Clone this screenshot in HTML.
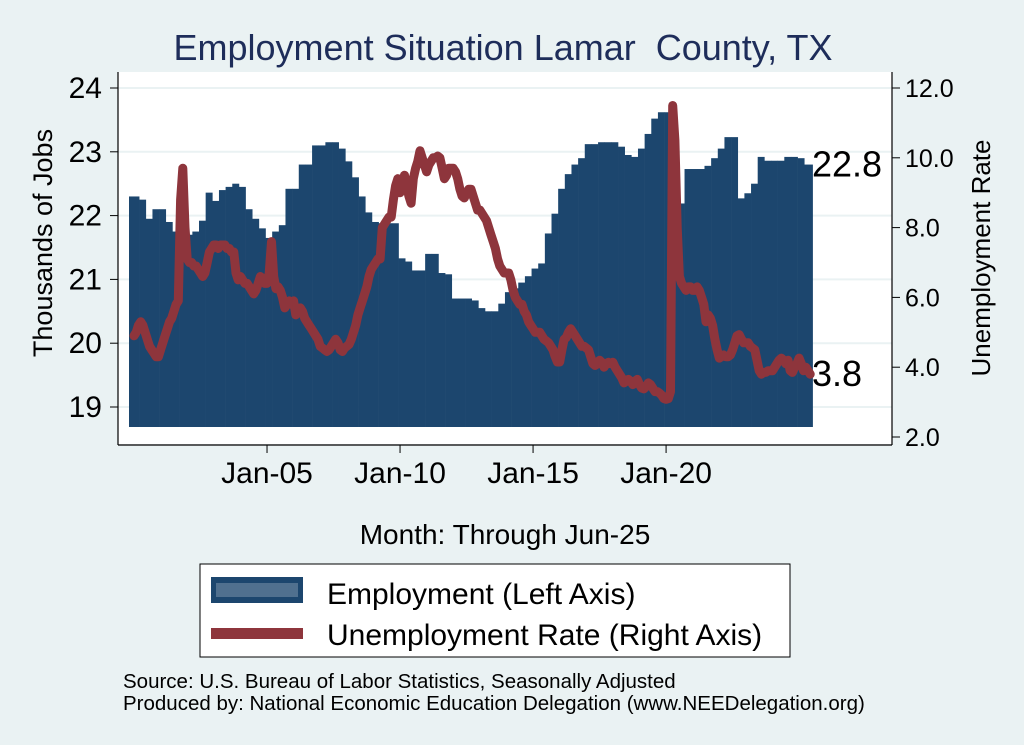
<!DOCTYPE html>
<html><head><meta charset="utf-8">
<style>
body{margin:0;background:#eaf2f3;}
svg{display:block;font-family:"Liberation Sans",Arial,sans-serif;}
</style></head>
<body>
<svg id="chart" width="1024" height="745" viewBox="0 0 1024 745" xmlns="http://www.w3.org/2000/svg">
<rect x="0" y="0" width="1024" height="745" fill="#eaf2f3"/>
<text x="503" y="60" text-anchor="middle" font-size="36" fill="#1e2d5a" xml:space="preserve">Employment Situation Lamar  County, TX</text>
<rect x="118" y="72" width="774" height="372" fill="#ffffff"/>
<g id="grid"></g>
<g id="bars"></g>
<path id="uline" fill="none" stroke="#8e353c" stroke-width="9" stroke-linejoin="round" stroke-linecap="round"/>
<line x1="118" y1="72" x2="118" y2="445" stroke="#000" stroke-width="1.2"/>
<line x1="892" y1="72" x2="892" y2="445" stroke="#000" stroke-width="1.2"/>
<line x1="118" y1="445" x2="892" y2="445" stroke="#000" stroke-width="1.2"/>
<g id="lticks"></g>
<g id="rticks"></g>
<g id="xticks"></g>
<text x="812" y="182" font-size="36" fill="#000" id="elabel">22.8</text>
<text x="812" y="383" font-size="36" fill="#000" id="ulabel">3.8</text>
<text transform="translate(52,243) rotate(-90)" text-anchor="middle" font-size="27" fill="#000">Thousands of Jobs</text>
<text transform="translate(990,258) rotate(-90)" text-anchor="middle" font-size="26" fill="#000">Unemployment Rate</text>
<text x="505" y="544" text-anchor="middle" font-size="28" fill="#000">Month: Through Jun-25</text>
<g>
<rect x="200" y="564" width="590" height="93" fill="#fff" stroke="#000" stroke-width="1"/>
<rect x="211" y="577" width="92" height="26" fill="#1c466e"/>
<rect x="216" y="583" width="82" height="14" fill="#50708f"/>
<text x="327" y="604" font-size="30" fill="#000">Employment (Left Axis)</text>
<rect x="211" y="628" width="92" height="11" fill="#8e353c"/>
<text x="327" y="645" font-size="30" fill="#000">Unemployment Rate (Right Axis)</text>
</g>
<text x="123" y="688" font-size="20.5" fill="#000">Source: U.S. Bureau of Labor Statistics, Seasonally Adjusted</text>
<text x="123" y="710" font-size="20.5" fill="#000">Produced by: National Economic Education Delegation (www.NEEDelegation.org)</text>
</svg>
<script>
// Quarterly employment (thousands), 2000Q1..2025Q2
const employment = [
22.3,22.25,21.95,22.1, 22.1,21.9,21.75,21.7, 21.7,21.75,21.92,22.36, 22.23,22.4,22.45,22.5,
22.45,22.1,21.95,21.8, 21.65,21.75,21.85,22.42, 22.42,22.8,22.8,23.1, 23.1,23.15,23.15,23.05,
22.85,22.6,22.3,22.05, 21.9,21.88,21.88,21.88, 21.33,21.28,21.14,21.14, 21.4,21.4,21.1,21.08,
20.7,20.7,20.7,20.67, 20.55,20.5,20.5,20.62, 20.8,20.86,20.95,21.05, 21.17,21.25,21.72,22.03,
22.42,22.65,22.8,22.9, 23.12,23.12,23.15,23.15, 23.15,23.08,22.95,22.92, 23.05,23.28,23.52,23.62,
23.62,21.9,22.19,22.73, 22.73,22.73,22.78,22.9, 23.05,23.23,23.23,22.27, 22.35,22.5,22.92,22.86,
22.86,22.86,22.92,22.92, 22.9,22.8];
// Monthly unemployment rate (%), Jan 2000..Jun 2025
const unemployment = [
4.9,5.0,5.2,5.3,5.2,5.0,4.8,4.6,4.5,4.4,4.3,4.3,
4.5,4.7,4.9,5.1,5.3,5.4,5.6,5.8,5.9,8.8,9.7,8.0,
7.1,7.0,7.0,6.9,6.9,6.8,6.7,6.6,6.7,7.0,7.3,7.4,
7.5,7.5,7.4,7.5,7.5,7.5,7.4,7.4,7.3,7.3,6.7,6.5,
6.6,6.5,6.4,6.4,6.3,6.2,6.1,6.2,6.4,6.6,6.5,6.4,
6.4,6.7,7.6,6.6,6.25,6.3,6.2,6.0,5.7,5.8,5.9,5.8,
5.9,5.5,5.6,5.7,5.6,5.4,5.3,5.2,5.1,5.0,4.9,4.8,
4.6,4.55,4.5,4.45,4.5,4.6,4.7,4.8,4.7,4.5,4.45,4.55,
4.6,4.65,4.8,5.0,5.2,5.5,5.7,5.9,6.1,6.3,6.6,6.8,
6.9,7.0,7.1,7.1,8.0,8.1,8.2,8.3,8.3,8.8,9.2,9.4,
9.0,9.3,9.5,9.2,8.9,8.7,9.4,9.7,9.9,10.2,10.0,9.8,
9.6,9.8,9.9,10.0,10.0,10.05,10.0,9.7,9.4,9.5,9.7,9.7,
9.7,9.6,9.4,9.1,8.9,8.85,9.0,9.1,9.1,8.9,8.7,8.5,
8.5,8.4,8.3,8.2,8.0,7.8,7.6,7.4,7.1,6.9,6.8,6.7,
6.7,6.7,6.5,6.2,6.0,5.9,5.8,5.8,5.6,5.5,5.3,5.2,
5.1,5.0,5.0,5.0,4.9,4.8,4.75,4.7,4.6,4.5,4.3,4.15,
4.15,4.5,4.8,4.85,5.0,5.1,5.0,4.9,4.8,4.7,4.6,4.6,
4.55,4.5,4.3,4.1,4.05,4.1,4.2,4.14,4.0,4.1,4.14,4.1,
4.14,4.0,3.9,3.8,3.7,3.55,3.6,3.65,3.6,3.5,3.6,3.65,
3.5,3.4,3.38,3.45,3.55,3.5,3.4,3.3,3.3,3.26,3.2,3.1,
3.08,3.1,3.3,11.5,10.5,8.0,6.6,6.4,6.3,6.2,6.3,6.3,
6.2,6.2,6.3,6.2,6.0,5.8,5.3,5.5,5.4,5.2,4.8,4.5,
4.26,4.3,4.35,4.3,4.3,4.35,4.5,4.7,4.9,4.93,4.8,4.7,
4.7,4.7,4.6,4.55,4.5,4.2,3.9,3.8,3.85,3.85,3.9,3.9,
3.9,4.0,4.1,4.2,4.26,4.2,4.1,4.2,3.9,3.85,4.0,4.1,
4.26,4.1,3.9,4.0,3.9,3.8];
const leftTicks = [19,20,21,22,23,24];
const rightTicks = [2,4,6,8,10,12];
const xTickLabels = ["Jan-05","Jan-10","Jan-15","Jan-20"];
const xTickMonths = [60,120,180,240];

const NS = "http://www.w3.org/2000/svg";
const xS = m => 134 + m * 2.217;
const yL = v => 88 + (24 - v) * 63.8;
const yR = v => 88 + (12 - v) * 34.9;
const base = 427;
function mk(tag, attrs, parent){const e=document.createElementNS(NS,tag);for(const k in attrs)e.setAttribute(k,attrs[k]);parent.appendChild(e);return e;}

const grid=document.getElementById('grid');
leftTicks.forEach(t=>{
  const g=mk('line',{x1:118,x2:892,y1:yL(t),y2:yL(t),stroke:'#eaf2f3','stroke-width':2},grid);
  
  
});
const bars=document.getElementById('bars');
employment.forEach((v,q)=>{
  const x0 = q===0 ? 129 : xS(3*q)-1.5;
  const x1 = xS(3*q+3)-1.5 + (q===employment.length-1?2:0.3);
  const r=mk('rect',{x:x0,y:yL(v),width:x1-x0,height:base-yL(v),fill:'#1c466e'},bars);
  
  
});
document.getElementById('uline').setAttribute('d', unemployment.map((v,i)=>(i?'L':'M')+xS(i).toFixed(1)+','+yR(v).toFixed(1)).join(' '));
document.getElementById('elabel').setAttribute('y', yL(employment[employment.length-1])+12);
document.getElementById('ulabel').setAttribute('y', yR(unemployment[unemployment.length-1])+12);

const lt=document.getElementById('lticks');
leftTicks.forEach(t=>{
  const l=mk('line',{x1:110,x2:118,y1:yL(t),y2:yL(t),stroke:'#000'},lt);
  
  
  const tx=mk('text',{x:102,y:yL(t)+10,'text-anchor':'end','font-size':30,fill:'#000'},lt);
  tx.textContent=t;
  
  
});
const rt=document.getElementById('rticks');
rightTicks.forEach(t=>{
  const l=mk('line',{x1:892,x2:900,y1:yR(t),y2:yR(t),stroke:'#000'},rt);
  
  
  const tx=mk('text',{x:905,y:yR(t)+9,'font-size':25,fill:'#000'},rt);
  tx.textContent=t.toFixed(1);
  
  
});
const xt=document.getElementById('xticks');
xTickMonths.forEach((m,i)=>{
  const l=mk('line',{x1:xS(m),x2:xS(m),y1:445,y2:453,stroke:'#000'},xt);
  
  
  const tx=mk('text',{x:xS(m),y:483,'text-anchor':'middle','font-size':30,fill:'#000'},xt);
  tx.textContent=xTickLabels[i];
  
  
});
</script>
</body></html>
